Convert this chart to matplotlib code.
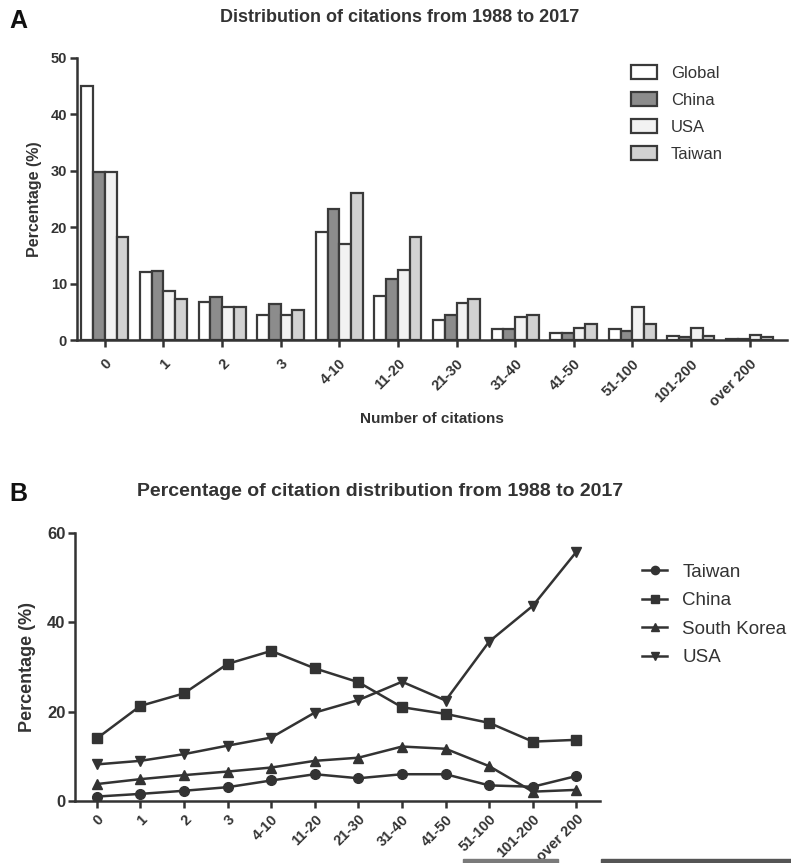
import matplotlib
matplotlib.use('Agg')
import matplotlib.pyplot as plt
import numpy as np
from matplotlib.patches import Rectangle

plt.rcParams['font.family'] = ['Liberation Sans', 'DejaVu Sans']

# categories shared by both panels
categories = ['0', '1', '2', '3', '4-10', '11-20', '21-30', '31-40',
              '41-50', '51-100', '101-200', 'over 200']

# Panel A: distribution of citations (%)
global_pct = [45.0, 12.0, 6.8, 4.4, 19.2, 7.8, 3.5, 1.9, 1.2, 2.0, 0.7, 0.2]
china_pct = [29.8, 12.2, 7.7, 6.4, 23.3, 10.9, 4.5, 1.9, 1.2, 1.6, 0.5, 0.2]
usa_pct = [29.8, 8.7, 5.9, 4.4, 17.0, 12.4, 6.5, 4.1, 2.2, 5.8, 2.2, 0.9]
taiwan_pct = [18.3, 7.2, 5.9, 5.4, 26.0, 18.3, 7.2, 4.4, 2.8, 2.8, 0.8, 0.5]

# Panel B: percentage of citation distribution
taiwan_b = [1.0, 1.6, 2.3, 3.1, 4.6, 6.0, 5.1, 6.0, 6.0, 3.5, 3.2, 5.6]
china_b = [14.0, 21.3, 24.1, 30.7, 33.6, 29.7, 26.6, 21.0, 19.5, 17.5, 13.3, 13.7]
korea_b = [3.8, 4.9, 5.8, 6.6, 7.5, 9.0, 9.7, 12.2, 11.7, 7.8, 2.1, 2.5]
usa_b = [8.2, 9.0, 10.5, 12.4, 14.2, 19.8, 22.6, 26.7, 22.5, 35.7, 43.7, 55.8]

dark = '#333333'

fig = plt.figure(figsize=(7.91, 8.63), dpi=100)

def style_axes(ax):
    for s in ['top', 'right']:
        ax.spines[s].set_visible(False)
    for s in ['left', 'bottom']:
        ax.spines[s].set_linewidth(1.8)
        ax.spines[s].set_color(dark)
    ax.tick_params(axis='both', width=1.8, length=5, color=dark, labelcolor=dark, pad=2)

# ---------------- Panel A ----------------
axA = fig.add_axes([0.097, 0.606, 0.898, 0.327])
x = np.arange(len(categories))
w = 0.2
series_a = [('Global', global_pct, 'white'),
            ('China', china_pct, '#8c8c8c'),
            ('USA', usa_pct, '#f2f2f2'),
            ('Taiwan', taiwan_pct, '#d2d2d2')]
for i, (name, vals, col) in enumerate(series_a):
    axA.bar(x + (i - 1.5) * w, vals, width=w, color=col, edgecolor='#3a3a3a',
            linewidth=1.6, label=name)
axA.set_xlim(-0.48, 11.64)
axA.set_ylim(0, 50)
axA.set_yticks([0, 10, 20, 30, 40, 50])
axA.set_xticks(x)
axA.set_xticklabels(categories, rotation=45, ha='right', rotation_mode='anchor',
                    fontsize=10.5, fontweight='bold')
for lab in axA.get_yticklabels():
    lab.set_fontsize(10.5)
    lab.set_fontweight('bold')
style_axes(axA)
axA.tick_params(axis='x', pad=7)
axA.set_ylabel('Percentage (%)', fontsize=11.5, fontweight='bold', color=dark, labelpad=6)
axA.set_xlabel('Number of citations', fontsize=11, fontweight='bold', color=dark, labelpad=2)
axA.legend(loc='upper left', bbox_to_anchor=(0.78, 0.975), frameon=False, fontsize=12,
           labelcolor=dark, handlelength=1.6, handleheight=0.9, labelspacing=0.68,
           handletextpad=0.8, borderpad=0, borderaxespad=0)
fig.text(0.505, 0.980, 'Distribution of citations from 1988 to 2017', ha='center',
         va='center', fontsize=13, fontweight='bold', color=dark)
fig.text(0.012, 0.976, 'A', ha='left', va='center', fontsize=18, fontweight='bold',
         color='#111111')

# ---------------- Panel B ----------------
axB = fig.add_axes([0.0948, 0.0718, 0.6637, 0.3106])
series_b = [('Taiwan', taiwan_b, 'o'),
            ('China', china_b, 's'),
            ('South Korea', korea_b, '^'),
            ('USA', usa_b, 'v')]
for name, vals, m in series_b:
    axB.plot(x, vals, color=dark, linewidth=1.8, marker=m, markersize=7,
             markerfacecolor=dark, markeredgecolor=dark, label=name)
axB.set_xlim(-0.5, 11.54)
axB.set_ylim(0, 60)
axB.set_yticks([0, 20, 40, 60])
axB.set_xticks(x)
axB.set_xticklabels(categories, rotation=45, ha='right', rotation_mode='anchor',
                    fontsize=10.5, fontweight='bold')
for lab in axB.get_yticklabels():
    lab.set_fontsize(12)
    lab.set_fontweight('bold')
style_axes(axB)
axB.tick_params(axis='x', pad=3)
axB.set_ylabel('Percentage (%)', fontsize=13, fontweight='bold', color=dark, labelpad=8)
axB.legend(loc='upper left', bbox_to_anchor=(1.08, 0.885), frameon=False, fontsize=13.5,
           labelcolor=dark, handlelength=1.35, labelspacing=0.6, handletextpad=0.8,
           markerscale=0.85, borderpad=0, borderaxespad=0)
fig.text(0.48, 0.430, 'Percentage of citation distribution from 1988 to 2017',
         ha='center', va='center', fontsize=14, fontweight='bold', color=dark)
fig.text(0.012, 0.428, 'B', ha='left', va='center', fontsize=18, fontweight='bold',
         color='#111111')

# scanning strips along the bottom edge
fig.patches.append(Rectangle((0.585, 0.0), 0.12, 0.005, transform=fig.transFigure,
                             color='#7a7a7a', zorder=0))
fig.patches.append(Rectangle((0.76, 0.0), 0.24, 0.005, transform=fig.transFigure,
                             color='#555555', zorder=0))

fig.savefig('out.png', dpi=100)
